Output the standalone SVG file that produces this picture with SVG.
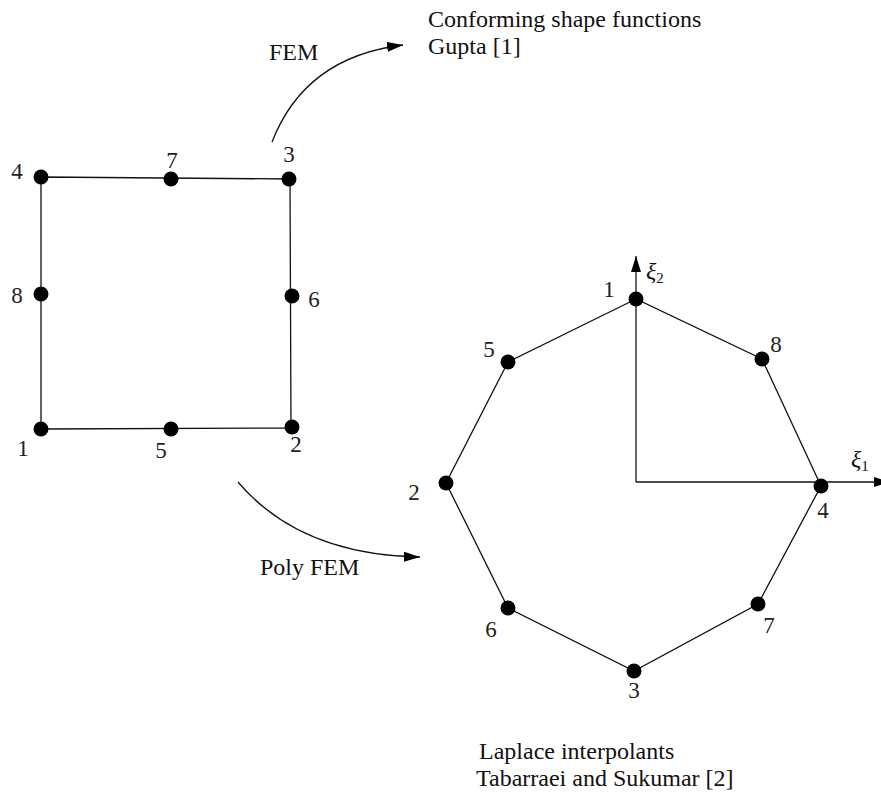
<svg xmlns="http://www.w3.org/2000/svg" width="881" height="793" viewBox="0 0 881 793">
<style>
.t{font-family:"Liberation Serif","Times New Roman",serif;font-size:24px;fill:#111}
.n{font-family:"Liberation Serif","Times New Roman",serif;font-size:23px;fill:#222;text-anchor:middle}
.e{stroke:#111;stroke-width:1.3;fill:none}
.d{fill:#000}
</style>
<defs>
<marker id="ah" viewBox="0 0 16 10" refX="16" refY="5" markerWidth="16" markerHeight="10" markerUnits="userSpaceOnUse" orient="auto">
<path d="M0,0 L16,5 L0,10 Z" fill="#000"/>
</marker>
</defs>
<rect width="881" height="793" fill="#fff"/>
<g id="connectors">
<path class="e" d="M41,177 L289,179 M41,177 L41,429 M41,429 L291,428 M290,179 L291,428"/>
<path class="e" d="M636,299 L508,362 L446,483 L508,608 L634,671 L758,604 L821,486 L762,359 Z"/>
<path class="e" d="M636,482 L636,256" marker-end="url(#ah)"/>
<path class="e" d="M636,482 L890,482" marker-end="url(#ah)"/>
<path class="e" d="M272,142 Q305,57 403,45" marker-end="url(#ah)"/>
<path class="e" d="M238,482 Q300,555 420,557" marker-end="url(#ah)"/>
</g>
<g id="square-nodes">
<g id="q4"><circle class="d" cx="41" cy="177" r="7.5"/><text class="n" x="17" y="179">4</text></g>
<g id="q7"><circle class="d" cx="171" cy="179" r="7.5"/><text class="n" x="172" y="168">7</text></g>
<g id="q3"><circle class="d" cx="289" cy="179" r="7.5"/><text class="n" x="289" y="162">3</text></g>
<g id="q8"><circle class="d" cx="41" cy="294" r="7.5"/><text class="n" x="17" y="303">8</text></g>
<g id="q6"><circle class="d" cx="292" cy="296" r="7.5"/><text class="n" x="314" y="307">6</text></g>
<g id="q1"><circle class="d" cx="41" cy="429" r="7.5"/><text class="n" x="23" y="456">1</text></g>
<g id="q5"><circle class="d" cx="171" cy="429" r="7.5"/><text class="n" x="161" y="458">5</text></g>
<g id="q2"><circle class="d" cx="292" cy="427" r="7.5"/><text class="n" x="296" y="452">2</text></g>
</g>
<g id="octagon-nodes">
<g id="o1"><circle class="d" cx="636" cy="299" r="7.5"/><text class="n" x="609" y="297">1</text></g>
<g id="o8"><circle class="d" cx="762" cy="359" r="7.5"/><text class="n" x="776" y="352">8</text></g>
<g id="o4"><circle class="d" cx="821" cy="486" r="7.5"/><text class="n" x="823" y="518">4</text></g>
<g id="o7"><circle class="d" cx="758" cy="604" r="7.5"/><text class="n" x="769" y="633">7</text></g>
<g id="o3"><circle class="d" cx="634" cy="671" r="7.5"/><text class="n" x="634" y="698">3</text></g>
<g id="o6"><circle class="d" cx="508" cy="608" r="7.5"/><text class="n" x="491" y="637">6</text></g>
<g id="o2"><circle class="d" cx="446" cy="483" r="7.5"/><text class="n" x="414" y="500">2</text></g>
<g id="o5"><circle class="d" cx="508" cy="362" r="7.5"/><text class="n" x="489" y="357">5</text></g>
</g>
<g id="axis-labels">
<text class="t" x="646" y="279" font-size="22" font-style="italic">ξ<tspan font-size="15" font-style="normal" dy="4">2</tspan></text>
<text class="t" x="851" y="467" font-size="22" font-style="italic">ξ<tspan font-size="15" font-style="normal" dy="4">1</tspan></text>
</g>
<g id="labels">
<text class="t" x="269" y="60">FEM</text>
<text class="t" x="428" y="27">Conforming shape functions</text>
<text class="t" x="428" y="54">Gupta [1]</text>
<text class="t" x="260" y="575">Poly FEM</text>
<text class="t" x="479" y="759">Laplace interpolants</text>
<text class="t" x="476" y="786">Tabarraei and Sukumar [2]</text>
</g>
</svg>
